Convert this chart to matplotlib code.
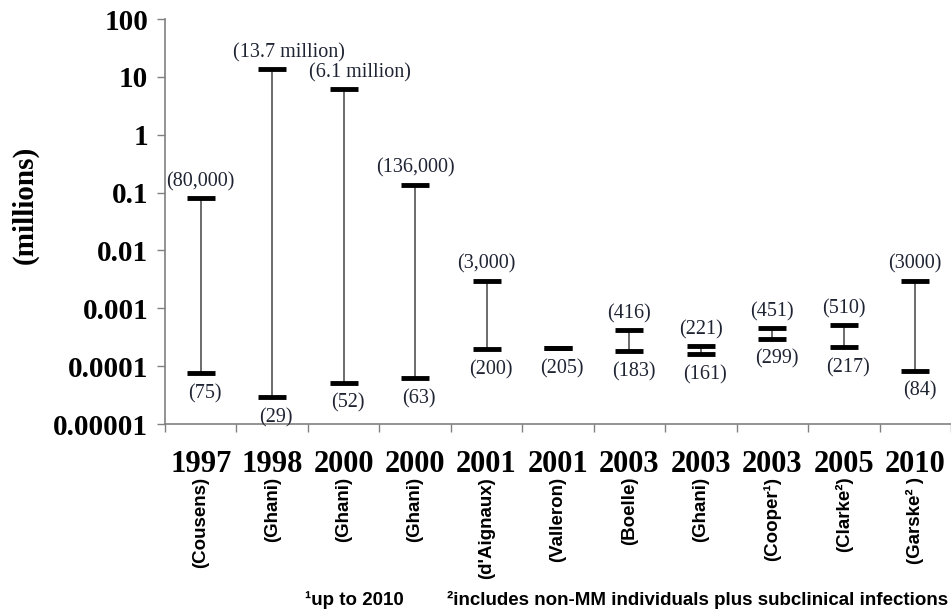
import matplotlib.pyplot as plt
import matplotlib.transforms as mtransforms

years = ['1997', '1998', '2000', '2000', '2001', '2001', '2003', '2003', '2003', '2005', '2010']
authors = ['(Cousens)', '(Ghani)', '(Ghani)', '(Ghani)', "(d'Aignaux)", '(Valleron)',
           '(Boelle)', '(Ghani)', '(Cooper\u00b9)', '(Clarke\u00b2)', '(Garske\u00b2 )']

# estimates in millions
low = [75e-6, 29e-6, 52e-6, 63e-6, 200e-6, 205e-6, 183e-6, 161e-6, 299e-6, 217e-6, 84e-6]
high = [0.08, 13.7, 6.1, 0.136, 3000e-6, 205e-6, 416e-6, 221e-6, 451e-6, 510e-6, 3000e-6]
low_labels = ['(75)', '(29)', '(52)', '(63)', '(200)', '(205)', '(183)', '(161)', '(299)', '(217)', '(84)']
high_labels = ['(80,000)', '(13.7 million)', '(6.1 million)', '(136,000)', '(3,000)', '',
               '(416)', '(221)', '(451)', '(510)', '(3000)']

yticks = [1e-5, 1e-4, 1e-3, 1e-2, 1e-1, 1, 10, 100]
ytick_labels = ['0.00001', '0.0001', '0.001', '0.01', '0.1', '1', '10', '100']

serif = 'Liberation Serif'
sans = 'Liberation Sans'
label_col = '#1f2433'

fig = plt.figure(figsize=(9.51, 6.12), dpi=100)
ax = fig.add_axes([165 / 951, 1 - 424 / 612, 1 - 165 / 951, 405 / 612])

x = list(range(len(years)))
ax.vlines(x, low, high, color='#444444', linewidth=1.1)
ax.plot(x, low, linestyle='none', marker='_', markersize=20, markeredgewidth=3.5, color='black')
ax.plot(x, high, linestyle='none', marker='_', markersize=20, markeredgewidth=3.5, color='black')

hi_dx = [0, 12, 12, 0, 0, 0, 0, 0, 0, 0, 0]
for i in x:
    if high_labels[i]:
        ax.annotate(high_labels[i], (i, high[i]), xytext=(hi_dx[i], 5), textcoords='offset points',
                    ha='center', va='bottom', fontsize=14.5, family=serif, color=label_col)
    ax.annotate(low_labels[i], (i, low[i]), xytext=(3, -8), textcoords='offset points',
                ha='center', va='top', fontsize=14.5, family=serif, color=label_col)

ax.set_yscale('log')
ax.set_ylim(1e-5, 100)
ax.set_xlim(-0.5, 10.42)
ax.set_yticks(yticks)
ax.set_yticklabels(ytick_labels, family=serif, fontsize=21, fontweight='bold')
ax.minorticks_off()
ax.set_xticks([i - 0.5 for i in range(len(years) + 1)])
ax.set_xticklabels([])
ax.tick_params(axis='both', direction='out', length=6, width=1, color='#808080')
ax.tick_params(axis='y', pad=6)

for s in ['top', 'right']:
    ax.spines[s].set_visible(False)
for s in ['left', 'bottom']:
    ax.spines[s].set_color('#808080')
    ax.spines[s].set_linewidth(1.2)

trans = mtransforms.blended_transform_factory(ax.transData, ax.transAxes)
for i in x:
    ax.annotate(years[i], (i, 0), xycoords=trans, xytext=(0, -29), textcoords='offset points',
                ha='center', va='center', fontsize=22, family=serif, fontweight='bold',
                annotation_clip=False)
    ax.annotate(authors[i], (i, 0), xycoords=trans, xytext=(0, -38), textcoords='offset points',
                ha='center', va='top', rotation=90, fontsize=13.5, family=sans, fontweight='bold',
                annotation_clip=False)

fig.text(25 / 951, 1 - 205 / 612, '(millions)', rotation=90, ha='center', va='center',
         fontsize=21, family=serif, fontweight='bold')
fig.text(305 / 951, 1 - 600 / 612, '\u00b9up to 2010', ha='left', va='center',
         fontsize=13.5, family=sans, fontweight='bold')
fig.text(447 / 951, 1 - 600 / 612, '\u00b2includes non-MM individuals plus subclinical infections',
         ha='left', va='center', fontsize=13.5, family=sans, fontweight='bold')

fig.savefig('out.png', dpi=100)
